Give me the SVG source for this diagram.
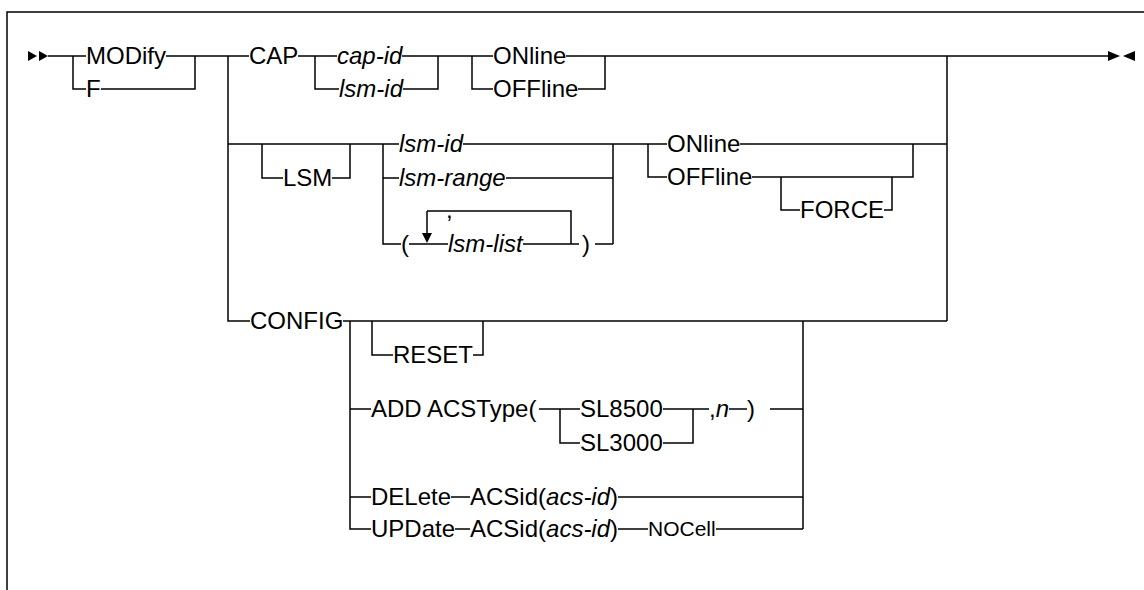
<svg xmlns="http://www.w3.org/2000/svg" width="1144" height="590" viewBox="0 0 1144 590">
<style>
text{font-family:"Liberation Sans",Arial,sans-serif;font-size:24px;fill:#000}
.i{font-style:italic}
.s{font-size:21px}
.c{fill:none;stroke:#000;stroke-width:1.5}
.a{fill:#000}
</style>
<rect width="1144" height="590" fill="#fff"/>
<path class="c" d="M7,590 V12 H1144" id="frame"/>
<g id="connectors">
<polygon class="a" points="28,51 37,56 28,61"/>
<polygon class="a" points="39,51 48,56 39,61"/>
<polygon class="a" points="1108,51 1120,56 1108,61"/>
<polygon class="a" points="1135,51 1123,56 1135,61"/>
<path class="c" d="M48,56 H86 M73,56 V89 H86 M166,56 H195 V89 H101 M195,56 H249 M228,56 V321 H250"/>
<path class="c" d="M298,56 H337 M315,56 V89 H339 M402,56 H438 V89 H403 M438,56 H493 M472,56 V89 H493 M566,56 H605 V89 H578 M605,56 H1108"/>
<path class="c" d="M228,144 H399 M262,144 V178 H283 M332,178 H350 V144 M383,144 V244 H401 M383,178 H399"/>
<path class="c" d="M463,144 H613 M506,178 H613 M409,244 H448 M523,244 H579 M427,211 V233 M427,211 H571 V244 M595,244 H613 M613,144 V244"/>
<polygon class="a" points="422,233 432,233 427,243"/>
<path class="c" d="M613,144 H667 M648,144 V177 H667 M740,144 H913 V177 H752 M781,177 V210 H800 M884,210 H892 V177 M913,144 H947 M947,56 V321"/>
<path class="c" d="M343,321 H947 M372,321 V355 H393 M473,355 H483 V321 M350,321 V529 H371 M350,409 H371 M350,497 H371"/>
<path class="c" d="M539,409 H580 M560,409 V443 H580 M663,409 H709 M663,443 H693 V409 M729,409 H747 M770,409 H803 M803,321 V529"/>
<path class="c" d="M451,497 H470 M455,529 H470 M618,497 H803 M618,529 H648 M716,529 H803"/>
</g>
<g id="n-modify"><text x="86" y="64">MODify</text></g>
<g id="n-f"><text x="86" y="97">F</text></g>
<g id="n-cap"><text x="249" y="64">CAP</text></g>
<g id="n-capid"><text class="i" x="337" y="64">cap-id</text></g>
<g id="n-lsmid1"><text class="i" x="339" y="97">lsm-id</text></g>
<g id="n-online1"><text x="493" y="64">ONline</text></g>
<g id="n-offline1"><text x="493" y="97">OFFline</text></g>
<g id="n-lsm"><text x="283" y="186">LSM</text></g>
<g id="n-lsmid2"><text class="i" x="399" y="152">lsm-id</text></g>
<g id="n-lsmrange"><text class="i" x="399" y="186">lsm-range</text></g>
<g id="n-list"><text x="401" y="252">(</text><text x="446" y="218">,</text><text class="i" x="448" y="252">lsm-list</text><text x="582" y="252">)</text></g>
<g id="n-online2"><text x="667" y="152">ONline</text></g>
<g id="n-offline2"><text x="667" y="185">OFFline</text></g>
<g id="n-force"><text x="800" y="218">FORCE</text></g>
<g id="n-config"><text x="250" y="329">CONFIG</text></g>
<g id="n-reset"><text x="393" y="363">RESET</text></g>
<g id="n-add"><text x="371" y="417">ADD ACSType(</text></g>
<g id="n-sl8500"><text x="580" y="417">SL8500</text></g>
<g id="n-sl3000"><text x="580" y="451">SL3000</text></g>
<g id="n-n"><text x="709" y="417">,<tspan class="i">n</tspan></text><text x="747" y="417">)</text></g>
<g id="n-delete"><text x="371" y="505">DELete</text><text x="470" y="505">ACSid(<tspan class="i">acs-id</tspan>)</text></g>
<g id="n-update"><text x="371" y="537">UPDate</text><text x="470" y="537">ACSid(<tspan class="i">acs-id</tspan>)</text></g>
<g id="n-nocell"><text class="s" x="648" y="536">NOCell</text></g>
</svg>
